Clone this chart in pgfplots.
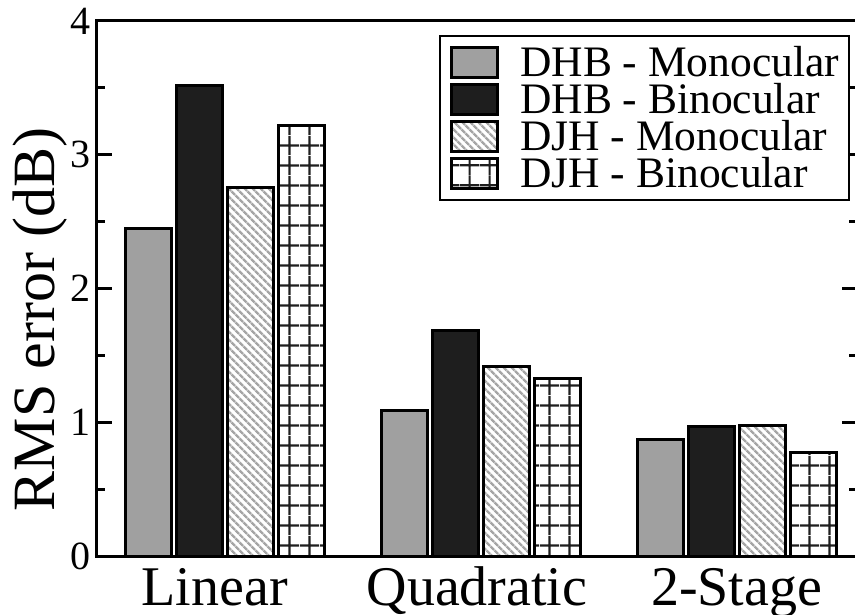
\documentclass[border=0pt]{standalone}
\usepackage{fontspec}
\setmainfont{Liberation Serif}
\usepackage{pgfplots}
\pgfplotsset{compat=1.18}
\usetikzlibrary{patterns,patterns.meta}

\definecolor{barGray}{RGB}{160,160,160}
\definecolor{barBlack}{RGB}{30,30,30}
\definecolor{hatchGray}{RGB}{165,165,165}

% square grid for the last series
\pgfdeclarepatternformonly{bargrid}{\pgfqpoint{0bp}{0bp}}{\pgfqpoint{20bp}{20bp}}{\pgfqpoint{20bp}{20bp}}{%
  \pgfsetlinewidth{2.2bp}
  \pgfpathmoveto{\pgfqpoint{0bp}{10bp}}\pgfpathlineto{\pgfqpoint{20bp}{10bp}}
  \pgfpathmoveto{\pgfqpoint{10bp}{0bp}}\pgfpathlineto{\pgfqpoint{10bp}{20bp}}
  \pgfusepath{stroke}}

\pgfplotsset{
  boxlegend/.style={legend image code/.code={%
    \draw[##1, line width=3bp] (0bp,-15bp) rectangle (46bp,15bp);}},
}

\begin{document}
\begin{tikzpicture}
\begin{axis}[
  scale only axis,
  width=760bp, height=535.5bp,
  ybar=5bp, bar width=46bp,
  xmin=-0.5, xmax=2.47,
  ymin=0, ymax=4,
  xtick={-0.04,0.985,2},
  xticklabels={Linear,Quadratic,2-Stage},
  xtick style={draw=none},
  ytick={0,1,2,3,4},
  yticklabel={\pgfmathprintnumber[assume math mode=true]{\tick}},
  minor y tick num=1,
  tick align=inside,
  major tick length=15bp,
  minor tick length=8bp,
  tick style={line width=3bp, black},
  axis line style={line width=3bp},
  yticklabel style={font=\fontsize{40bp}{40bp}\selectfont, inner sep=0pt, xshift=-6bp},
  xticklabel style={font=\fontsize{56bp}{56bp}\selectfont, inner sep=0pt,
    text height=37bp, text depth=0bp, anchor=north, yshift=-11.5bp},
  ylabel={RMS error (dB)},
  ylabel style={font=\fontsize{60bp}{60bp}\selectfont, inner sep=0pt,
    at={(axis description cs:-0.0553,0.4426)}, anchor=base},
  legend style={
    at={(axis description cs:0.991,0.974)}, anchor=north east,
    draw=black, line width=2bp, fill=white,
    inner xsep=10bp, inner ysep=8bp,
    font=\fontsize{43.5bp}{43.5bp}\selectfont,
    row sep=0bp,
    /tikz/every odd column/.append style={column sep=21bp},
    nodes={inner sep=0pt, text height=33bp, text depth=4bp, anchor=west},
  },
  legend cell align=left,
]
\addplot[boxlegend, draw=black, line width=3bp, fill=barGray]
  coordinates {(0,2.447) (1,1.088) (2,0.876)};
\addplot[boxlegend, draw=black, line width=3bp, fill=barBlack]
  coordinates {(0,3.517) (1,1.686) (2,0.969)};
\addplot[boxlegend, draw=black, line width=3bp,
  pattern={Lines[angle=-45,distance=6bp,line width=3bp]}, pattern color=hatchGray]
  coordinates {(0,2.758) (1,1.417) (2,0.976)};
\addplot[boxlegend, draw=black, line width=3bp, pattern=bargrid, pattern color=barBlack]
  coordinates {(0,3.219) (1,1.327) (2,0.777)};
\legend{DHB - Monocular, DHB - Binocular, DJH - Monocular, DJH - Binocular}
\end{axis}
\pgfresetboundingbox
\useasboundingbox (-97bp,-58.5bp) rectangle (758bp,556.5bp);
\end{tikzpicture}
\end{document}
